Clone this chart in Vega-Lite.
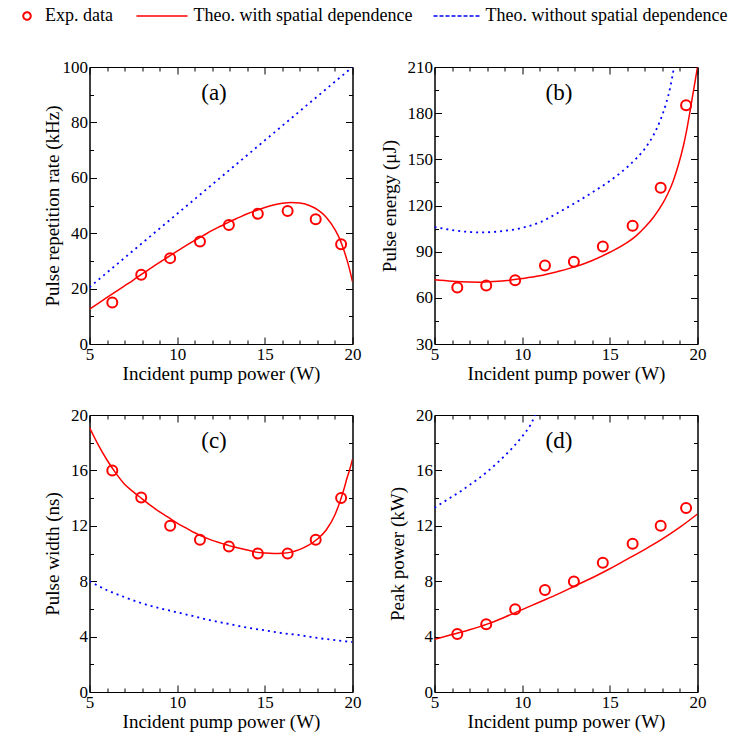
{
"$schema":"https://vega.github.io/schema/vega-lite/v6.json",
"background":"white",
"padding":{"left":13.5,"top":7,"right":5,"bottom":5},
"bounds":"flush",
"columns":2,
"spacing":{"row":71,"column":82},
"datasets":{
"exp":[
{"panel":"a","power":6.3,"value":15},{"panel":"a","power":7.95,"value":25},{"panel":"a","power":9.6,"value":31},{"panel":"a","power":11.3,"value":37},{"panel":"a","power":12.95,"value":43},{"panel":"a","power":14.6,"value":47},{"panel":"a","power":16.3,"value":48},{"panel":"a","power":17.9,"value":45},{"panel":"a","power":19.35,"value":36},
{"panel":"b","power":6.3,"value":66.7},{"panel":"b","power":7.95,"value":68},{"panel":"b","power":9.6,"value":71.5},{"panel":"b","power":11.3,"value":81},{"panel":"b","power":12.95,"value":83.4},{"panel":"b","power":14.6,"value":93.3},{"panel":"b","power":16.3,"value":106.9},{"panel":"b","power":17.9,"value":131.6},{"panel":"b","power":19.35,"value":185.1},
{"panel":"c","power":6.3,"value":16},{"panel":"c","power":7.95,"value":14.05},{"panel":"c","power":9.6,"value":12},{"panel":"c","power":11.3,"value":11},{"panel":"c","power":12.95,"value":10.5},{"panel":"c","power":14.6,"value":10},{"panel":"c","power":16.3,"value":10},{"panel":"c","power":17.9,"value":11},{"panel":"c","power":19.35,"value":14},
{"panel":"d","power":6.3,"value":4.18},{"panel":"d","power":7.95,"value":4.9},{"panel":"d","power":9.6,"value":5.98},{"panel":"d","power":11.3,"value":7.37},{"panel":"d","power":12.95,"value":7.97},{"panel":"d","power":14.6,"value":9.34},{"panel":"d","power":16.3,"value":10.7},{"panel":"d","power":17.9,"value":12.0},{"panel":"d","power":19.35,"value":13.28}
],
"theo":[
{"panel":"a","series":"Theo. with spatial dependence","power":5,"value":12.6},{"panel":"a","series":"Theo. with spatial dependence","power":5.5,"value":14.7},{"panel":"a","series":"Theo. with spatial dependence","power":6,"value":16.8},{"panel":"a","series":"Theo. with spatial dependence","power":6.5,"value":18.9},{"panel":"a","series":"Theo. with spatial dependence","power":7,"value":21},{"panel":"a","series":"Theo. with spatial dependence","power":7.5,"value":23.1},{"panel":"a","series":"Theo. with spatial dependence","power":8,"value":25.3},{"panel":"a","series":"Theo. with spatial dependence","power":8.5,"value":27.4},{"panel":"a","series":"Theo. with spatial dependence","power":9,"value":29.5},{"panel":"a","series":"Theo. with spatial dependence","power":9.5,"value":31.5},{"panel":"a","series":"Theo. with spatial dependence","power":10,"value":33.5},{"panel":"a","series":"Theo. with spatial dependence","power":10.5,"value":35.5},{"panel":"a","series":"Theo. with spatial dependence","power":11,"value":37.4},{"panel":"a","series":"Theo. with spatial dependence","power":11.5,"value":39.2},{"panel":"a","series":"Theo. with spatial dependence","power":12,"value":41},{"panel":"a","series":"Theo. with spatial dependence","power":12.5,"value":42.6},{"panel":"a","series":"Theo. with spatial dependence","power":13,"value":44.2},{"panel":"a","series":"Theo. with spatial dependence","power":13.5,"value":45.6},{"panel":"a","series":"Theo. with spatial dependence","power":14,"value":47},{"panel":"a","series":"Theo. with spatial dependence","power":14.5,"value":48.2},{"panel":"a","series":"Theo. with spatial dependence","power":15,"value":49.3},{"panel":"a","series":"Theo. with spatial dependence","power":15.5,"value":50.2},{"panel":"a","series":"Theo. with spatial dependence","power":16,"value":50.8},{"panel":"a","series":"Theo. with spatial dependence","power":16.5,"value":51.1},{"panel":"a","series":"Theo. with spatial dependence","power":17,"value":50.9},{"panel":"a","series":"Theo. with spatial dependence","power":17.5,"value":50.1},{"panel":"a","series":"Theo. with spatial dependence","power":18,"value":48.5},{"panel":"a","series":"Theo. with spatial dependence","power":18.5,"value":45.8},{"panel":"a","series":"Theo. with spatial dependence","power":19,"value":41.3},{"panel":"a","series":"Theo. with spatial dependence","power":19.3,"value":37.5},{"panel":"a","series":"Theo. with spatial dependence","power":19.5,"value":34},{"panel":"a","series":"Theo. with spatial dependence","power":19.7,"value":30},{"panel":"a","series":"Theo. with spatial dependence","power":19.85,"value":26.5},{"panel":"a","series":"Theo. with spatial dependence","power":20,"value":22.5},
{"panel":"a","series":"Theo. without spatial dependence","power":5,"value":20.5},{"panel":"a","series":"Theo. without spatial dependence","power":10,"value":47},{"panel":"a","series":"Theo. without spatial dependence","power":15,"value":73.5},{"panel":"a","series":"Theo. without spatial dependence","power":20,"value":100},
{"panel":"b","series":"Theo. with spatial dependence","power":5,"value":71.7},{"panel":"b","series":"Theo. with spatial dependence","power":6,"value":70.8},{"panel":"b","series":"Theo. with spatial dependence","power":7,"value":70.3},{"panel":"b","series":"Theo. with spatial dependence","power":7.6,"value":70.2},{"panel":"b","series":"Theo. with spatial dependence","power":8,"value":70.4},{"panel":"b","series":"Theo. with spatial dependence","power":9,"value":71.1},{"panel":"b","series":"Theo. with spatial dependence","power":10,"value":72.5},{"panel":"b","series":"Theo. with spatial dependence","power":11,"value":74.3},{"panel":"b","series":"Theo. with spatial dependence","power":12,"value":77},{"panel":"b","series":"Theo. with spatial dependence","power":13,"value":80.1},{"panel":"b","series":"Theo. with spatial dependence","power":14,"value":84.3},{"panel":"b","series":"Theo. with spatial dependence","power":15,"value":89.6},{"panel":"b","series":"Theo. with spatial dependence","power":16,"value":96},{"panel":"b","series":"Theo. with spatial dependence","power":16.5,"value":100.3},{"panel":"b","series":"Theo. with spatial dependence","power":17,"value":105.8},{"panel":"b","series":"Theo. with spatial dependence","power":17.5,"value":112.5},{"panel":"b","series":"Theo. with spatial dependence","power":18,"value":121},{"panel":"b","series":"Theo. with spatial dependence","power":18.3,"value":127.5},{"panel":"b","series":"Theo. with spatial dependence","power":18.6,"value":135.5},{"panel":"b","series":"Theo. with spatial dependence","power":18.9,"value":146},{"panel":"b","series":"Theo. with spatial dependence","power":19.2,"value":159},{"panel":"b","series":"Theo. with spatial dependence","power":19.4,"value":170},{"panel":"b","series":"Theo. with spatial dependence","power":19.6,"value":183},{"panel":"b","series":"Theo. with spatial dependence","power":19.8,"value":196.5},{"panel":"b","series":"Theo. with spatial dependence","power":20,"value":210},
{"panel":"b","series":"Theo. without spatial dependence","power":5,"value":106},{"panel":"b","series":"Theo. without spatial dependence","power":5.5,"value":105},{"panel":"b","series":"Theo. without spatial dependence","power":6,"value":104},{"panel":"b","series":"Theo. without spatial dependence","power":6.5,"value":103.3},{"panel":"b","series":"Theo. without spatial dependence","power":7,"value":102.8},{"panel":"b","series":"Theo. without spatial dependence","power":7.5,"value":102.5},{"panel":"b","series":"Theo. without spatial dependence","power":8,"value":102.6},{"panel":"b","series":"Theo. without spatial dependence","power":9,"value":103.5},{"panel":"b","series":"Theo. without spatial dependence","power":10,"value":105.5},{"panel":"b","series":"Theo. without spatial dependence","power":11,"value":109},{"panel":"b","series":"Theo. without spatial dependence","power":12,"value":115},{"panel":"b","series":"Theo. without spatial dependence","power":13,"value":121.5},{"panel":"b","series":"Theo. without spatial dependence","power":14,"value":128.5},{"panel":"b","series":"Theo. without spatial dependence","power":15,"value":136},{"panel":"b","series":"Theo. without spatial dependence","power":16,"value":145},{"panel":"b","series":"Theo. without spatial dependence","power":16.5,"value":150.5},{"panel":"b","series":"Theo. without spatial dependence","power":17,"value":157},{"panel":"b","series":"Theo. without spatial dependence","power":17.5,"value":166},{"panel":"b","series":"Theo. without spatial dependence","power":17.9,"value":176},{"panel":"b","series":"Theo. without spatial dependence","power":18.2,"value":186},{"panel":"b","series":"Theo. without spatial dependence","power":18.45,"value":197},{"panel":"b","series":"Theo. without spatial dependence","power":18.66,"value":210},
{"panel":"c","series":"Theo. with spatial dependence","power":5,"value":19.1},{"panel":"c","series":"Theo. with spatial dependence","power":5.5,"value":17.85},{"panel":"c","series":"Theo. with spatial dependence","power":6,"value":16.75},{"panel":"c","series":"Theo. with spatial dependence","power":6.5,"value":15.8},{"panel":"c","series":"Theo. with spatial dependence","power":7,"value":15.0},{"panel":"c","series":"Theo. with spatial dependence","power":7.5,"value":14.45},{"panel":"c","series":"Theo. with spatial dependence","power":8,"value":13.95},{"panel":"c","series":"Theo. with spatial dependence","power":8.5,"value":13.45},{"panel":"c","series":"Theo. with spatial dependence","power":9,"value":13.0},{"panel":"c","series":"Theo. with spatial dependence","power":9.5,"value":12.6},{"panel":"c","series":"Theo. with spatial dependence","power":10,"value":12.2},{"panel":"c","series":"Theo. with spatial dependence","power":10.5,"value":11.85},{"panel":"c","series":"Theo. with spatial dependence","power":11,"value":11.5},{"panel":"c","series":"Theo. with spatial dependence","power":11.5,"value":11.2},{"panel":"c","series":"Theo. with spatial dependence","power":12,"value":10.95},{"panel":"c","series":"Theo. with spatial dependence","power":12.5,"value":10.75},{"panel":"c","series":"Theo. with spatial dependence","power":13,"value":10.55},{"panel":"c","series":"Theo. with spatial dependence","power":13.5,"value":10.4},{"panel":"c","series":"Theo. with spatial dependence","power":14,"value":10.25},{"panel":"c","series":"Theo. with spatial dependence","power":14.5,"value":10.1},{"panel":"c","series":"Theo. with spatial dependence","power":15,"value":10.03},{"panel":"c","series":"Theo. with spatial dependence","power":15.5,"value":10.0},{"panel":"c","series":"Theo. with spatial dependence","power":16,"value":10.02},{"panel":"c","series":"Theo. with spatial dependence","power":16.5,"value":10.1},{"panel":"c","series":"Theo. with spatial dependence","power":17,"value":10.3},{"panel":"c","series":"Theo. with spatial dependence","power":17.5,"value":10.6},{"panel":"c","series":"Theo. with spatial dependence","power":18,"value":11.05},{"panel":"c","series":"Theo. with spatial dependence","power":18.5,"value":11.7},{"panel":"c","series":"Theo. with spatial dependence","power":19,"value":12.8},{"panel":"c","series":"Theo. with spatial dependence","power":19.3,"value":13.8},{"panel":"c","series":"Theo. with spatial dependence","power":19.5,"value":14.6},{"panel":"c","series":"Theo. with spatial dependence","power":19.7,"value":15.5},{"panel":"c","series":"Theo. with spatial dependence","power":19.85,"value":16.1},{"panel":"c","series":"Theo. with spatial dependence","power":20,"value":16.8},
{"panel":"c","series":"Theo. without spatial dependence","power":5,"value":8.0},{"panel":"c","series":"Theo. without spatial dependence","power":6,"value":7.35},{"panel":"c","series":"Theo. without spatial dependence","power":7,"value":6.85},{"panel":"c","series":"Theo. without spatial dependence","power":8,"value":6.4},{"panel":"c","series":"Theo. without spatial dependence","power":9,"value":6.05},{"panel":"c","series":"Theo. without spatial dependence","power":10,"value":5.75},{"panel":"c","series":"Theo. without spatial dependence","power":11,"value":5.45},{"panel":"c","series":"Theo. without spatial dependence","power":12,"value":5.15},{"panel":"c","series":"Theo. without spatial dependence","power":13,"value":4.9},{"panel":"c","series":"Theo. without spatial dependence","power":14,"value":4.65},{"panel":"c","series":"Theo. without spatial dependence","power":15,"value":4.45},{"panel":"c","series":"Theo. without spatial dependence","power":16,"value":4.25},{"panel":"c","series":"Theo. without spatial dependence","power":17,"value":4.1},{"panel":"c","series":"Theo. without spatial dependence","power":18,"value":3.9},{"panel":"c","series":"Theo. without spatial dependence","power":19,"value":3.75},{"panel":"c","series":"Theo. without spatial dependence","power":20,"value":3.6},
{"panel":"d","series":"Theo. with spatial dependence","power":5,"value":3.8},{"panel":"d","series":"Theo. with spatial dependence","power":6,"value":4.15},{"panel":"d","series":"Theo. with spatial dependence","power":7,"value":4.5},{"panel":"d","series":"Theo. with spatial dependence","power":8,"value":4.9},{"panel":"d","series":"Theo. with spatial dependence","power":9,"value":5.4},{"panel":"d","series":"Theo. with spatial dependence","power":10,"value":5.95},{"panel":"d","series":"Theo. with spatial dependence","power":11,"value":6.5},{"panel":"d","series":"Theo. with spatial dependence","power":12,"value":7.05},{"panel":"d","series":"Theo. with spatial dependence","power":13,"value":7.65},{"panel":"d","series":"Theo. with spatial dependence","power":14,"value":8.25},{"panel":"d","series":"Theo. with spatial dependence","power":15,"value":8.9},{"panel":"d","series":"Theo. with spatial dependence","power":16,"value":9.6},{"panel":"d","series":"Theo. with spatial dependence","power":17,"value":10.3},{"panel":"d","series":"Theo. with spatial dependence","power":18,"value":11.05},{"panel":"d","series":"Theo. with spatial dependence","power":19,"value":11.9},{"panel":"d","series":"Theo. with spatial dependence","power":20,"value":12.85},
{"panel":"d","series":"Theo. without spatial dependence","power":5,"value":13.3},{"panel":"d","series":"Theo. without spatial dependence","power":5.5,"value":13.7},{"panel":"d","series":"Theo. without spatial dependence","power":6,"value":14.1},{"panel":"d","series":"Theo. without spatial dependence","power":6.5,"value":14.5},{"panel":"d","series":"Theo. without spatial dependence","power":7,"value":14.95},{"panel":"d","series":"Theo. without spatial dependence","power":7.5,"value":15.4},{"panel":"d","series":"Theo. without spatial dependence","power":8,"value":15.9},{"panel":"d","series":"Theo. without spatial dependence","power":8.5,"value":16.45},{"panel":"d","series":"Theo. without spatial dependence","power":9,"value":17.05},{"panel":"d","series":"Theo. without spatial dependence","power":9.5,"value":17.7},{"panel":"d","series":"Theo. without spatial dependence","power":10,"value":18.45},{"panel":"d","series":"Theo. without spatial dependence","power":10.5,"value":19.35},{"panel":"d","series":"Theo. without spatial dependence","power":10.75,"value":20}
]
},
"concat":[
{"width":263,"height":277,
 "resolve":{"axis":{"x":"independent","y":"independent"}},
 "layer":[
  {"data":{"name":"theo"},"transform":[{"filter":"datum.panel==='a' && datum.series==='Theo. without spatial dependence'"}],
   "mark":{"type":"line","strokeWidth":1.8,"clip":true,"interpolate":"monotone","strokeDash":[2,4]},
   "encoding":{
    "x":{"field":"power","type":"quantitative","scale":{"domain":[5,20],"nice":false,"zero":false},"axis":{"orient":"bottom","values":[5,10,15,20],"tickSize":-7,"labelPadding":9,"title":"Incident pump power (W)","titlePadding":2}},
    "y":{"field":"value","type":"quantitative","scale":{"domain":[0,100],"nice":false,"zero":false},"axis":{"orient":"left","values":[0,20,40,60,80,100],"tickSize":-7,"labelPadding":9,"title":"Pulse repetition rate (kHz)","titlePadding":-0.5}},
    "color":{"field":"series","type":"nominal","scale":{"domain":["Exp. data","Theo. with spatial dependence","Theo. without spatial dependence"],"range":["#ff0000","#ff0000","#0000ff"]},
      "legend":{"orient":"none","legendX":-75.5,"legendY":-60,"direction":"horizontal","title":null,"padding":0,"symbolSize":2500,"symbolStrokeWidth":1.5,"symbolType":"stroke","labelFont":"Liberation Serif","labelFontSize":18,"labelColor":"black","labelOffset":9,"labelLimit":0,"columnPadding":9.5,
        "encode":{
         "symbols":{"update":{
          "shape":{"signal":"datum.value === 'Exp. data' ? 'circle' : 'stroke'"},
          "size":{"signal":"datum.value === 'Exp. data' ? 56 : (datum.value === 'Theo. with spatial dependence' ? 2601 : 2304)"},
          "x":{"signal":"datum.value === 'Exp. data' ? 13 : (datum.value === 'Theo. with spatial dependence' ? 39.5 : 35.5)"},
          "strokeWidth":{"signal":"datum.value === 'Exp. data' ? 2 : 1.5"},
          "strokeDash":{"signal":"datum.value === 'Theo. without spatial dependence' ? [4,2] : [1,0]"},
          "fill":{"value":"transparent"}}},
         "labels":{"update":{
          "x":{"signal":"datum.value === 'Exp. data' ? 31 : (datum.value === 'Theo. with spatial dependence' ? 71 : 63.5)"}}}}}}
   }},
  {"data":{"name":"theo"},"transform":[{"filter":"datum.panel==='a' && datum.series==='Theo. with spatial dependence'"}],
   "mark":{"type":"line","strokeWidth":1.5,"clip":true,"interpolate":"monotone","color":"#ff0000"},
   "encoding":{
    "x":{"field":"power","type":"quantitative","axis":{"orient":"top","values":[5,10,15,20],"tickSize":-7,"labels":false,"title":null}},
    "y":{"field":"value","type":"quantitative","axis":{"orient":"right","values":[0,20,40,60,80,100],"tickSize":-7,"labels":false,"title":null}}
   }},
  {"data":{"name":"exp"},"transform":[{"filter":"datum.panel==='a'"}],
   "mark":{"type":"point","shape":"circle","filled":false,"color":"#ff0000","size":100,"strokeWidth":2,"opacity":1},
   "encoding":{
    "x":{"field":"power","type":"quantitative","axis":{"orient":"bottom","values":[6,7,8,9,11,12,13,14,16,17,18,19],"tickSize":-4,"labels":false,"domain":false,"title":null}},
    "y":{"field":"value","type":"quantitative","axis":{"orient":"left","values":[10,30,50,70,90],"tickSize":-4,"labels":false,"domain":false,"title":null}}
   }},
  {"data":{"values":[{"label":"(a)","power":12.1,"value":90.6}]},
   "mark":{"type":"text","font":"Liberation Serif","fontSize":23,"baseline":"middle","align":"center","color":"black"},
   "encoding":{
    "x":{"field":"power","type":"quantitative","axis":{"orient":"top","values":[6,7,8,9,11,12,13,14,16,17,18,19],"tickSize":-4,"labels":false,"domain":false,"title":null}},
    "y":{"field":"value","type":"quantitative","axis":{"orient":"right","values":[10,30,50,70,90],"tickSize":-4,"labels":false,"domain":false,"title":null}},
    "text":{"field":"label"}
   }}
 ]},
{"width":263,"height":277,
 "resolve":{"axis":{"x":"independent","y":"independent"}},
 "layer":[
  {"data":{"name":"theo"},"transform":[{"filter":"datum.panel==='b' && datum.series==='Theo. without spatial dependence'"}],
   "mark":{"type":"line","strokeWidth":1.8,"clip":true,"interpolate":"monotone","color":"#0000ff","strokeDash":[2,4]},
   "encoding":{
    "x":{"field":"power","type":"quantitative","scale":{"domain":[5,20],"nice":false,"zero":false},"axis":{"orient":"bottom","values":[5,10,15,20],"tickSize":-7,"labelPadding":9,"title":"Incident pump power (W)","titlePadding":2}},
    "y":{"field":"value","type":"quantitative","scale":{"domain":[30,210],"nice":false,"zero":false},"axis":{"orient":"left","values":[30,60,90,120,150,180,210],"tickSize":-7,"labelPadding":9,"title":"Pulse energy (μJ)","titlePadding":8}}
   }},
  {"data":{"name":"theo"},"transform":[{"filter":"datum.panel==='b' && datum.series==='Theo. with spatial dependence'"}],
   "mark":{"type":"line","strokeWidth":1.5,"clip":true,"interpolate":"monotone","color":"#ff0000"},
   "encoding":{
    "x":{"field":"power","type":"quantitative","axis":{"orient":"top","values":[5,10,15,20],"tickSize":-7,"labels":false,"title":null}},
    "y":{"field":"value","type":"quantitative","axis":{"orient":"right","values":[30,60,90,120,150,180,210],"tickSize":-7,"labels":false,"title":null}}
   }},
  {"data":{"name":"exp"},"transform":[{"filter":"datum.panel==='b'"}],
   "mark":{"type":"point","shape":"circle","filled":false,"color":"#ff0000","size":100,"strokeWidth":2,"opacity":1},
   "encoding":{
    "x":{"field":"power","type":"quantitative","axis":{"orient":"bottom","values":[6,7,8,9,11,12,13,14,16,17,18,19],"tickSize":-4,"labels":false,"domain":false,"title":null}},
    "y":{"field":"value","type":"quantitative","axis":{"orient":"left","values":[45,75,105,135,165,195],"tickSize":-4,"labels":false,"domain":false,"title":null}}
   }},
  {"data":{"values":[{"label":"(b)","power":12.1,"value":193.1}]},
   "mark":{"type":"text","font":"Liberation Serif","fontSize":23,"baseline":"middle","align":"center","color":"black"},
   "encoding":{
    "x":{"field":"power","type":"quantitative","axis":{"orient":"top","values":[6,7,8,9,11,12,13,14,16,17,18,19],"tickSize":-4,"labels":false,"domain":false,"title":null}},
    "y":{"field":"value","type":"quantitative","axis":{"orient":"right","values":[45,75,105,135,165,195],"tickSize":-4,"labels":false,"domain":false,"title":null}},
    "text":{"field":"label"}
   }}
 ]},
{"width":263,"height":277,
 "resolve":{"axis":{"x":"independent","y":"independent"}},
 "layer":[
  {"data":{"name":"theo"},"transform":[{"filter":"datum.panel==='c' && datum.series==='Theo. without spatial dependence'"}],
   "mark":{"type":"line","strokeWidth":1.8,"clip":true,"interpolate":"monotone","color":"#0000ff","strokeDash":[2,4]},
   "encoding":{
    "x":{"field":"power","type":"quantitative","scale":{"domain":[5,20],"nice":false,"zero":false},"axis":{"orient":"bottom","values":[5,10,15,20],"tickSize":-7,"labelPadding":9,"title":"Incident pump power (W)","titlePadding":2}},
    "y":{"field":"value","type":"quantitative","scale":{"domain":[0,20],"nice":false,"zero":false},"axis":{"orient":"left","values":[0,4,8,12,16,20],"tickSize":-7,"labelPadding":9,"title":"Pulse width (ns)","titlePadding":8.5}}
   }},
  {"data":{"name":"theo"},"transform":[{"filter":"datum.panel==='c' && datum.series==='Theo. with spatial dependence'"}],
   "mark":{"type":"line","strokeWidth":1.5,"clip":true,"interpolate":"monotone","color":"#ff0000"},
   "encoding":{
    "x":{"field":"power","type":"quantitative","axis":{"orient":"top","values":[5,10,15,20],"tickSize":-7,"labels":false,"title":null}},
    "y":{"field":"value","type":"quantitative","axis":{"orient":"right","values":[0,4,8,12,16,20],"tickSize":-7,"labels":false,"title":null}}
   }},
  {"data":{"name":"exp"},"transform":[{"filter":"datum.panel==='c'"}],
   "mark":{"type":"point","shape":"circle","filled":false,"color":"#ff0000","size":100,"strokeWidth":2,"opacity":1},
   "encoding":{
    "x":{"field":"power","type":"quantitative","axis":{"orient":"bottom","values":[6,7,8,9,11,12,13,14,16,17,18,19],"tickSize":-4,"labels":false,"domain":false,"title":null}},
    "y":{"field":"value","type":"quantitative","axis":{"orient":"left","values":[2,6,10,14,18],"tickSize":-4,"labels":false,"domain":false,"title":null}}
   }},
  {"data":{"values":[{"label":"(c)","power":12.1,"value":18.12}]},
   "mark":{"type":"text","font":"Liberation Serif","fontSize":23,"baseline":"middle","align":"center","color":"black"},
   "encoding":{
    "x":{"field":"power","type":"quantitative","axis":{"orient":"top","values":[6,7,8,9,11,12,13,14,16,17,18,19],"tickSize":-4,"labels":false,"domain":false,"title":null}},
    "y":{"field":"value","type":"quantitative","axis":{"orient":"right","values":[2,6,10,14,18],"tickSize":-4,"labels":false,"domain":false,"title":null}},
    "text":{"field":"label"}
   }}
 ]},
{"width":263,"height":277,
 "resolve":{"axis":{"x":"independent","y":"independent"}},
 "layer":[
  {"data":{"name":"theo"},"transform":[{"filter":"datum.panel==='d' && datum.series==='Theo. without spatial dependence'"}],
   "mark":{"type":"line","strokeWidth":1.8,"clip":true,"interpolate":"monotone","color":"#0000ff","strokeDash":[2,4]},
   "encoding":{
    "x":{"field":"power","type":"quantitative","scale":{"domain":[5,20],"nice":false,"zero":false},"axis":{"orient":"bottom","values":[5,10,15,20],"tickSize":-7,"labelPadding":9,"title":"Incident pump power (W)","titlePadding":2}},
    "y":{"field":"value","type":"quantitative","scale":{"domain":[0,20],"nice":false,"zero":false},"axis":{"orient":"left","values":[0,4,8,12,16,20],"tickSize":-7,"labelPadding":9,"title":"Peak power (kW)","titlePadding":8.3}}
   }},
  {"data":{"name":"theo"},"transform":[{"filter":"datum.panel==='d' && datum.series==='Theo. with spatial dependence'"}],
   "mark":{"type":"line","strokeWidth":1.5,"clip":true,"interpolate":"monotone","color":"#ff0000"},
   "encoding":{
    "x":{"field":"power","type":"quantitative","axis":{"orient":"top","values":[5,10,15,20],"tickSize":-7,"labels":false,"title":null}},
    "y":{"field":"value","type":"quantitative","axis":{"orient":"right","values":[0,4,8,12,16,20],"tickSize":-7,"labels":false,"title":null}}
   }},
  {"data":{"name":"exp"},"transform":[{"filter":"datum.panel==='d'"}],
   "mark":{"type":"point","shape":"circle","filled":false,"color":"#ff0000","size":100,"strokeWidth":2,"opacity":1},
   "encoding":{
    "x":{"field":"power","type":"quantitative","axis":{"orient":"bottom","values":[6,7,8,9,11,12,13,14,16,17,18,19],"tickSize":-4,"labels":false,"domain":false,"title":null}},
    "y":{"field":"value","type":"quantitative","axis":{"orient":"left","values":[2,6,10,14,18],"tickSize":-4,"labels":false,"domain":false,"title":null}}
   }},
  {"data":{"values":[{"label":"(d)","power":12.1,"value":18.12}]},
   "mark":{"type":"text","font":"Liberation Serif","fontSize":23,"baseline":"middle","align":"center","color":"black"},
   "encoding":{
    "x":{"field":"power","type":"quantitative","axis":{"orient":"top","values":[6,7,8,9,11,12,13,14,16,17,18,19],"tickSize":-4,"labels":false,"domain":false,"title":null}},
    "y":{"field":"value","type":"quantitative","axis":{"orient":"right","values":[2,6,10,14,18],"tickSize":-4,"labels":false,"domain":false,"title":null}},
    "text":{"field":"label"}
   }}
 ]}
],
"config":{
 "view":{"stroke":"black","strokeWidth":1},
 "axis":{"labelFont":"Liberation Serif","labelFontSize":17,"labelColor":"black","titleFont":"Liberation Serif","titleFontSize":19,"titleFontWeight":"normal","titleColor":"black","domainColor":"black","tickColor":"black","grid":false,"labelFlush":false,"labelOverlap":false,"tickWidth":1,"domainWidth":1}
}
}
